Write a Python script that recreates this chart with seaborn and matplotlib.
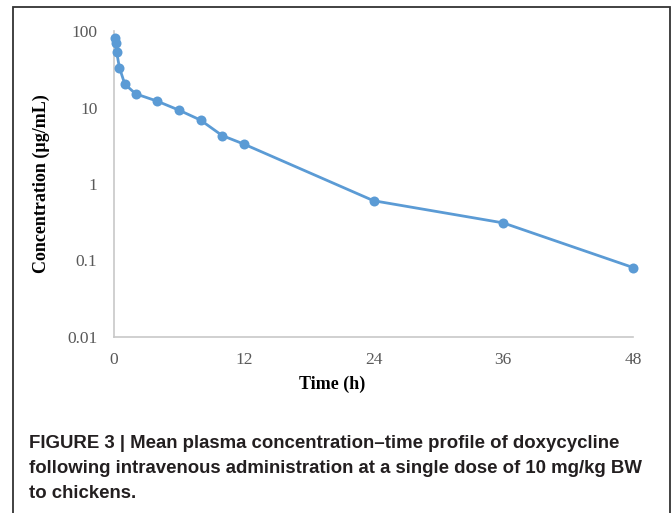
import matplotlib
matplotlib.use("Agg")
import matplotlib.pyplot as plt
from matplotlib.patches import Rectangle
from matplotlib.ticker import FixedLocator, FuncFormatter
import seaborn as sns
import pandas as pd

# Sampling times (h) and mean plasma doxycycline concentrations (µg/mL)
time_h = [0.083, 0.167, 0.25, 0.5, 1, 2, 4, 6, 8, 10, 12, 24, 36, 48]
conc_ug_ml = [80.3, 69.0, 52.7, 33.2, 20.2, 15.1, 12.1, 9.25, 6.85, 4.3, 3.33, 0.605, 0.31, 0.081]
x_ticks = [0, 12, 24, 36, 48]
y_ticks = [0.01, 0.1, 1, 10, 100]

caption = ("FIGURE 3 | Mean plasma concentration\u2013time profile of doxycycline\n"
           "following intravenous administration at a single dose of 10 mg/kg BW\n"
           "to chickens.")

sns.set_style("white")
plt.rcParams["font.family"] = ["Liberation Serif", "DejaVu Serif"]

df = pd.DataFrame({"Time (h)": time_h, "Concentration": conc_ug_ml})

fig = plt.figure(figsize=(6.72, 5.13), dpi=100)
ax = fig.add_axes([114 / 672, 1 - 337 / 513, 519 / 672, 306 / 513])

blue = "#5B9BD5"
sns.lineplot(data=df, x="Time (h)", y="Concentration", ax=ax, color=blue,
             linewidth=2.0, marker="o", markersize=7.2, markeredgecolor=blue,
             markeredgewidth=0, clip_on=False, zorder=3)

ax.set_yscale("log")
ax.set_xlim(0, 48)
ax.set_ylim(0.01, 100)
ax.xaxis.set_major_locator(FixedLocator(x_ticks))
ax.yaxis.set_major_locator(FixedLocator(y_ticks))
ax.yaxis.set_minor_locator(FixedLocator([]))
ax.yaxis.set_major_formatter(FuncFormatter(lambda v, p: f"{v:g}"))
ax.tick_params(axis="both", length=0, labelsize=12.5, labelcolor="#595959")
ax.tick_params(axis="y", pad=12)
ax.tick_params(axis="x", pad=11)

for side in ("top", "right"):
    ax.spines[side].set_visible(False)
for side in ("left", "bottom"):
    ax.spines[side].set_color("#C8C8C8")
    ax.spines[side].set_linewidth(1.2)

ax.set_xlabel("Time (h)", fontsize=13, fontweight="bold", color="black")
ax.set_ylabel("Concentration (\u00b5g/mL)", fontsize=13, fontweight="bold", color="black")
ax.xaxis.set_label_coords(0.42, -0.125)
ax.yaxis.set_label_coords(-0.123, 0.5)

# Outer frame of the figure panel
fig.patches.append(Rectangle((13 / 672, -0.05), (670 - 13) / 672, 1.05 - 7 / 513,
                             transform=fig.transFigure, fill=False,
                             edgecolor="#333333", linewidth=1.3))

fig.text(29 / 672, 1 - 435 / 513, caption, ha="left", va="top",
         fontsize=13.4, fontweight="bold", color="#231F20",
         family=["Liberation Sans", "DejaVu Sans"], linespacing=1.62)

fig.savefig("out.png", dpi=100)
